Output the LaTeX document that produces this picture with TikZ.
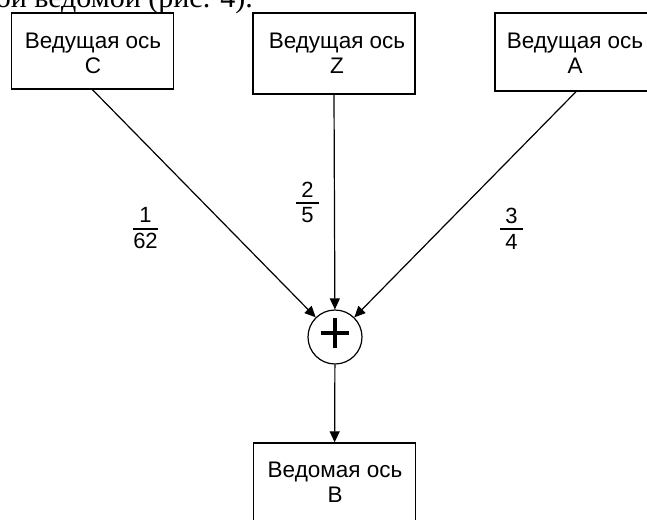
\documentclass[tikz,border=0pt]{standalone}
\usepackage{fontspec}
\setmainfont{Liberation Sans}
\newfontfamily\serifbody{Liberation Serif}
\usetikzlibrary{arrows.meta}
\begin{document}
\begin{tikzpicture}[x=1pt,y=-1pt,
  axisbox/.style={draw,line width=1.4pt,minimum width=162pt,align=center,
    inner sep=0pt,font=\fontsize{22.5}{25}\selectfont},
  link/.style={line width=1.2pt,-{Triangle[length=11pt,width=10pt]}},
  digit/.style={inner sep=0pt,font=\fontsize{22}{25}\selectfont},
  fracbar/.style={line width=1.3pt},
  sumnode/.style={draw,circle,line width=1.2pt,minimum size=54pt,inner sep=0pt}]
\useasboundingbox (0,0) rectangle (647,519);
\clip (0,0) rectangle (647,519);

% running text of the page above the scheme
\node[anchor=base east,inner sep=0pt,font=\serifbody\fontsize{30}{30}\selectfont]
  (caption) at (253,7.5) {ой ведомой (рис. 4).};

% driving and driven axes
\node[axisbox,minimum height=76pt] (C) at (92.5,51) {};
\node[axisbox,minimum height=81pt] (Z) at (334,53.5) {};
\node[axisbox,minimum height=78pt] (A) at (576,52) {};
\node[axisbox,minimum height=81pt] (B) at (334.5,483.5) {};

% two-line captions inside the boxes (anchored at the last baseline)
\node[axisbox,draw=none,anchor=base] (Ct) at (93,73.5) {Ведущая ось\\C};
\node[axisbox,draw=none,anchor=base] (Zt) at (337,73.5) {Ведущая ось\\Z};
\node[axisbox,draw=none,anchor=base] (At) at (575,73.5) {Ведущая ось\\A};
\node[axisbox,draw=none,anchor=base] (Bt) at (335,502) {Ведомая ось\\B};

% summing junction
\node[sumnode] (sum) at (335,337) {};
\draw[line width=4.5pt] (321,333) -- (349,333);
\draw[line width=4.5pt] (335,318) -- (335,348);

% connectors
\draw[link] (C.south) -- (sum);
\draw[link] (Z.south) -- (sum);
\draw[link] (A.south) -- (sum);
\draw[link] (sum) -- (B);

% gear ratios
\node[digit] (n1) at (145.5,214.5) {1};
\node[digit] (d1) at (145.5,241) {62};
\coordinate (b1l) at (133,229);
\coordinate (b1r) at (158,229);
\draw[fracbar] (b1l) -- (b1r);

\node[digit] (n2) at (307.5,189.5) {2};
\node[digit] (d2) at (307.5,215.5) {5};
\coordinate (b2l) at (296,203);
\coordinate (b2r) at (319,203);
\draw[fracbar] (b2l) -- (b2r);

\node[digit] (n3) at (511.5,216) {3};
\node[digit] (d3) at (511.5,241.5) {4};
\coordinate (b3l) at (500,229);
\coordinate (b3r) at (523,229);
\draw[fracbar] (b3l) -- (b3r);
\end{tikzpicture}
\end{document}
